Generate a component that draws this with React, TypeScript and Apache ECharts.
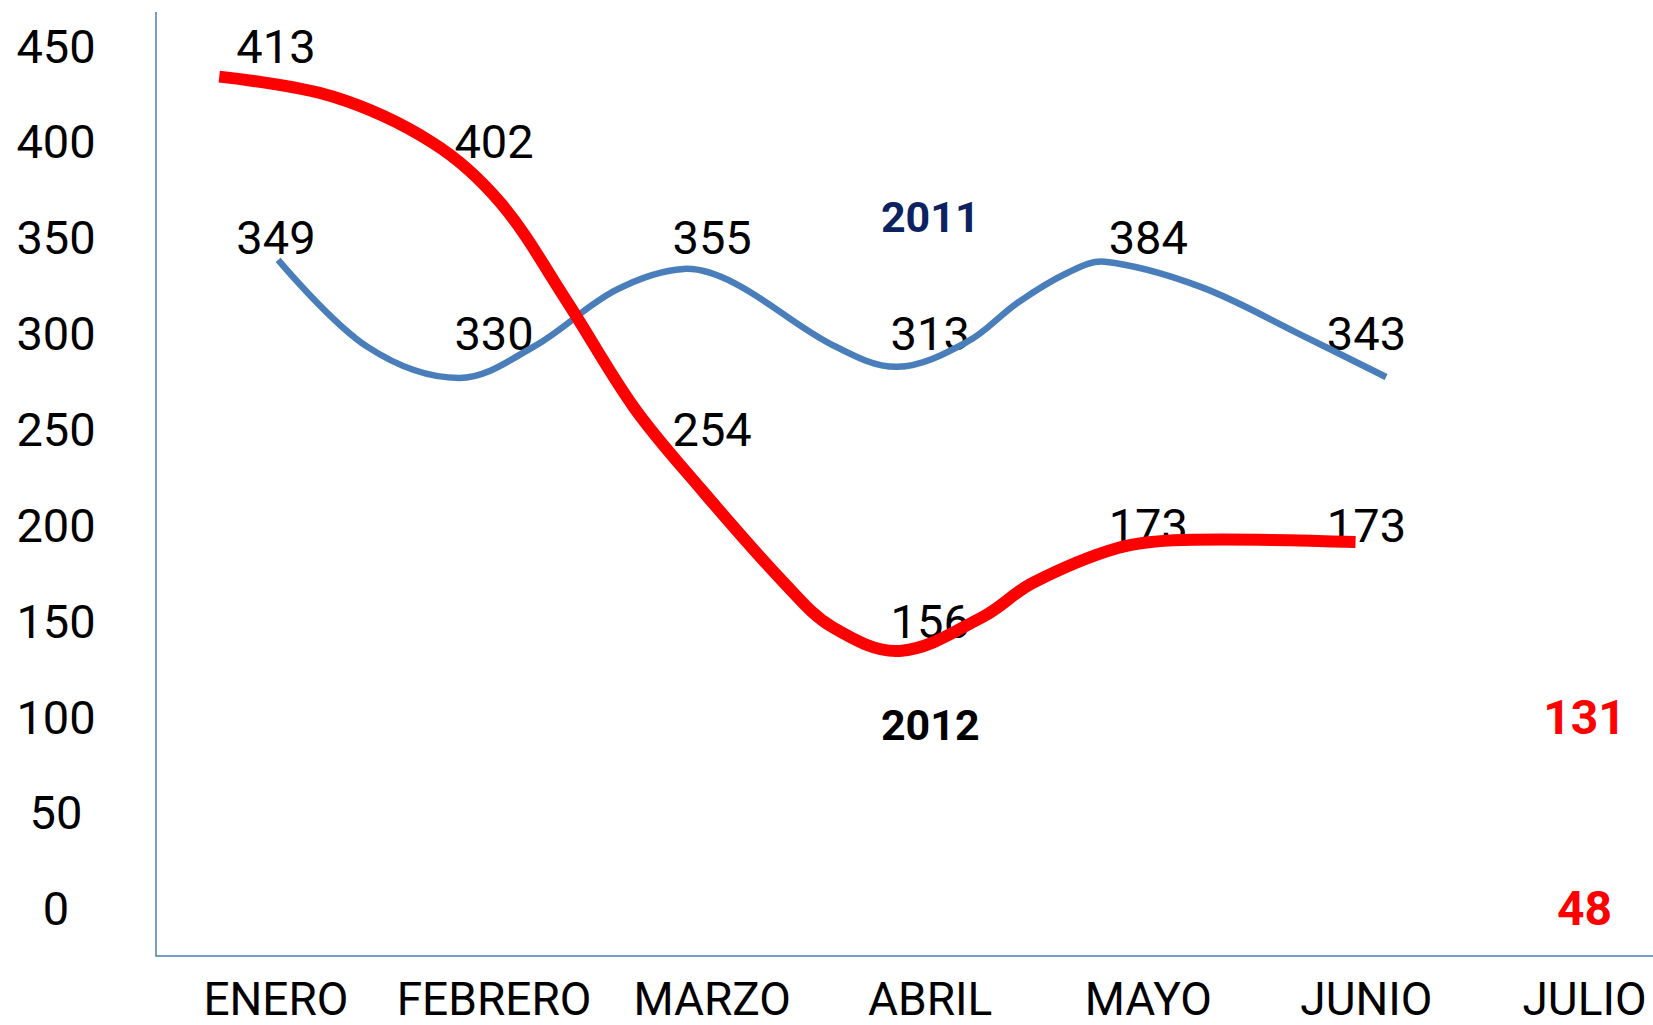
import React, { useEffect, useRef } from "react";
import * as echarts from "echarts";

// Category labels (month index 0..6 on the x axis)
const months = ["ENERO", "FEBRERO", "MARZO", "ABRIL", "MAYO", "JUNIO", "JULIO"];
const monthIdx = [0, 1, 2, 3, 4, 5, 6];
const yTicks = [0, 50, 100, 150, 200, 250, 300, 350, 400, 450];

// 2011 line (blue): x = month index, y = value
const line2011X = [0.01, 0.42, 0.84, 1.18, 1.56, 1.87, 2.1, 2.55, 2.85, 3.17, 3.4, 3.63, 3.8, 4.24, 4.7, 5.09];
const line2011Y = [338.5, 293.1, 276.9, 293.1, 322.8, 333.8, 326.5, 294.2, 282.7, 295.8, 316.1, 331.8, 337.5, 324.4, 299.4, 277.4];

// 2012 line (red)
const line2012X = [-0.26, 0.26, 0.72, 1.03, 1.33, 1.64, 1.94, 2.33, 2.55, 2.86, 3.24, 3.47, 3.86, 4.16, 4.95];
const line2012Y = [434.1, 423.7, 399.5, 368.2, 317.6, 261.8, 220.1, 170.0, 147.0, 134.5, 152.2, 170.0, 188.2, 192.4, 191.3];

// Data label texts and the rows where they sit
const values2011 = [349, 330, 355, 313, 384, 343];
const rows2011 = [350, 300, 350, 300, 350, 300];
const values2012 = [413, 402, 254, 156, 173, 173];
const rows2012 = [450, 400, 250, 150, 200, 200];
const julioValues = [131, 48];
const julioRows = [100, 0];
const seriesNames = ["2011", "2012"];
const nameRows = [361, 96];

const FONT = "Roboto, 'Open Sans', sans-serif";

export default function App() {
  const ref = useRef<HTMLDivElement>(null);

  useEffect(() => {
    if (!ref.current) return;
    const chart = echarts.init(ref.current, undefined, { renderer: "svg" });

    const labelData = [
      ...values2011.map((v, i) => ({ value: [monthIdx[i], rows2011[i]], text: String(v) })),
      ...values2012.map((v, i) => ({ value: [monthIdx[i], rows2012[i]], text: String(v) })),
    ];

    const axisColor = "#4A7EBB";
    const labelSeries = (data: any[], color: string, size: number, weight: string) => ({
      type: "scatter",
      z: 1,
      symbolSize: 1,
      silent: true,
      itemStyle: { color: "rgba(0,0,0,0)", opacity: 1 },
      data,
      label: {
        show: true,
        position: "inside",
        formatter: (p: any) => p.data.text,
        color,
        opacity: 1,
        fontWeight: weight,
        fontFamily: FONT,
        fontSize: size,
        textBorderWidth: 0,
      },
    });

    // Smooth curve through the traced points, positioned by the axes' scales
    const curveSeries = (name: string, xs: number[], ys: number[], color: string, width: number, z: number) => ({
      name,
      type: "custom",
      z,
      silent: true,
      clip: false,
      data: [0],
      renderItem: (_params: any, api: any) => ({
        type: "polyline",
        shape: {
          points: xs.map((x, i) => api.coord([x, ys[i]])),
          smooth: 0.35,
        },
        style: { stroke: color, lineWidth: width, fill: null, lineCap: "butt", lineJoin: "round" },
      }),
    });

    chart.setOption({
      animation: false,
      backgroundColor: "#ffffff",
      grid: { left: 156, right: 0, top: 12.6, bottom: 69.5, containLabel: false },
      xAxis: {
        type: "value",
        min: -0.55,
        max: 6.314,
        axisLine: { show: true, onZero: false, lineStyle: { color: axisColor, width: 1.5 } },
        axisTick: { show: false },
        splitLine: { show: false },
        axisLabel: {
          customValues: monthIdx,
          formatter: (v: number) => months[Math.round(v)] ?? "",
          color: "#000",
          fontFamily: FONT,
          fontSize: 46,
          lineHeight: 36,
          margin: 43,
          verticalAlign: "middle",
          showMinLabel: true,
          showMaxLabel: true,
        },
      },
      yAxis: {
        type: "value",
        min: -24.4,
        max: 467.5,
        axisLine: { show: true, onZero: false, lineStyle: { color: axisColor, width: 1.5 } },
        axisTick: { show: false },
        splitLine: { show: false },
        axisLabel: {
          customValues: yTicks,
          color: "#000",
          fontFamily: FONT,
          fontSize: 47,
          align: "center",
          margin: 100,
        },
      },
      series: [
        labelSeries(labelData, "#000000", 47, "normal"),
        labelSeries([{ value: [monthIdx[3], nameRows[0]], text: seriesNames[0] }], "#0D2260", 43, "bold"),
        labelSeries([{ value: [monthIdx[3], nameRows[1]], text: seriesNames[1] }], "#000000", 43, "bold"),
        labelSeries(
          julioValues.map((v, i) => ({ value: [monthIdx[6], julioRows[i]], text: String(v) })),
          "#FF0000",
          48,
          "bold"
        ),
        curveSeries(seriesNames[0], line2011X, line2011Y, "#4A7EBB", 6.5, 3),
        curveSeries(seriesNames[1], line2012X, line2012Y, "#FF0000", 12, 4),
      ],
    });

    return () => chart.dispose();
  }, []);

  return (
    <div
      ref={ref}
      style={{ position: "fixed", left: 0, top: 0, width: 1653, height: 1025, background: "#fff" }}
    />
  );
}
